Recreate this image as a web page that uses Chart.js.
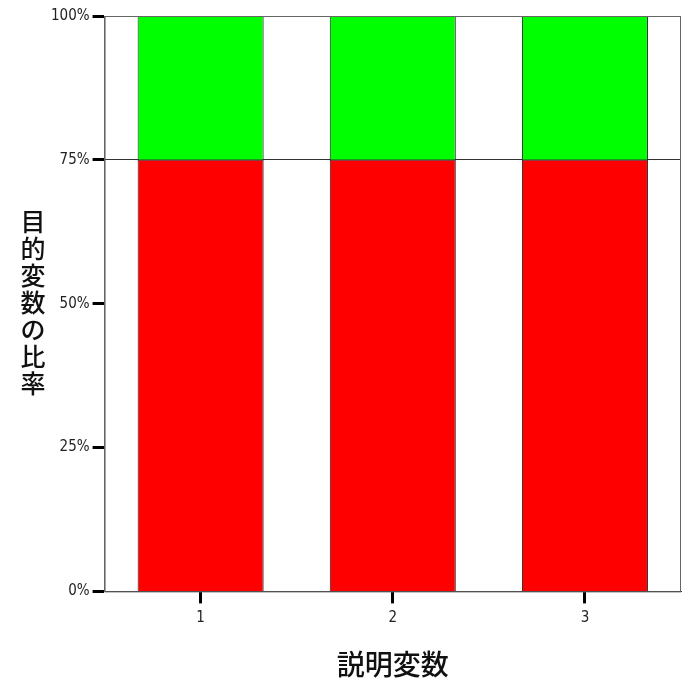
<!DOCTYPE html>
<html>
<head>
<meta charset="utf-8">
<script src="https://cdn.jsdelivr.net/npm/chart.js@4"></script>
<style>
  body { margin: 0; background: #fff; }
  #wrap { width: 683px; height: 681px; position: relative; }
</style>
</head>
<body>
<div id="wrap"><canvas id="grafica"></canvas></div>
<script>
// datos
const categorias = ["1", "2", "3"];
const rojo = [75, 75, 75];   // parte inferior
const verde = [25, 25, 25];  // parte superior
const marcasY = [0, 25, 50, 75, 100];
const tituloY = "目的変数の比率";
const tituloX = "説明変数";

const fuenteTicks = "'Liberation Sans Narrow', 'DejaVu Sans Condensed', 'Liberation Sans', sans-serif";
const fuenteCJK = "'Noto Sans CJK JP', 'Noto Sans CJK SC', sans-serif";

// marco del area del grafico + titulo vertical del eje Y
const marco = {
  id: 'marco',
  afterDatasetsDraw(chart) {
    const { ctx, chartArea: a } = chart;
    ctx.save();
    ctx.strokeStyle = '#666';
    ctx.lineWidth = 1;
    ctx.strokeRect(a.left + 0.5, a.top + 0.5, a.right - a.left - 1, a.bottom - a.top);
    ctx.restore();
  },
  afterDraw(chart) {
    const { ctx } = chart;
    ctx.save();
    ctx.fillStyle = '#111';
    ctx.font = "500 25px " + fuenteCJK;
    ctx.textAlign = 'center';
    ctx.textBaseline = 'middle';
    const paso = 27;
    const chars = Array.from(tituloY);
    const y0 = 221;
    chars.forEach((c, i) => ctx.fillText(c, 33, y0 + i * paso));
    ctx.restore();
  }
};

new Chart(document.querySelector('#grafica'), {
  type: 'bar',
  data: {
    labels: categorias,
    datasets: [
      { data: rojo, backgroundColor: '#ff0000', borderColor: '#222', borderWidth: 1 },
      { data: verde, backgroundColor: '#00ff00', borderColor: '#222', borderWidth: 1 }
    ]
  },
  options: {
    responsive: true,
    maintainAspectRatio: false,
    animation: false,
    layout: { padding: { left: 48, right: 2, top: 16, bottom: 0 } },
    plugins: { legend: { display: false }, tooltip: { enabled: false } },
    datasets: { bar: { categoryPercentage: 0.656, barPercentage: 1 } },
    scales: {
      x: {
        stacked: true,
        grid: { offset: false, color: 'transparent', tickColor: '#000', tickWidth: 3, tickLength: 12 },
        border: { color: '#333', width: 1 },
        ticks: { color: '#222', padding: 6, font: { family: fuenteTicks, size: 15 } },
        title: { display: true, text: tituloX, color: '#111', padding: { top: 14, bottom: 0 },
                 font: { family: fuenteCJK, size: 28, weight: '500' } }
      },
      y: {
        stacked: true,
        min: 0,
        max: 100,
        afterBuildTicks: (s) => { s.ticks = marcasY.map(v => ({ value: v })); },
        grid: {
          color: (c) => c.tick && c.tick.value === 75 ? '#333' : 'transparent',
          tickColor: '#000', tickWidth: 3, tickLength: 12
        },
        border: { color: '#666', width: 1 },
        ticks: { color: '#222', padding: 3, font: { family: fuenteTicks, size: 15 },
                 callback: (v) => v + '%' }
      }
    }
  },
  plugins: [marco]
});
</script>
</body>
</html>
